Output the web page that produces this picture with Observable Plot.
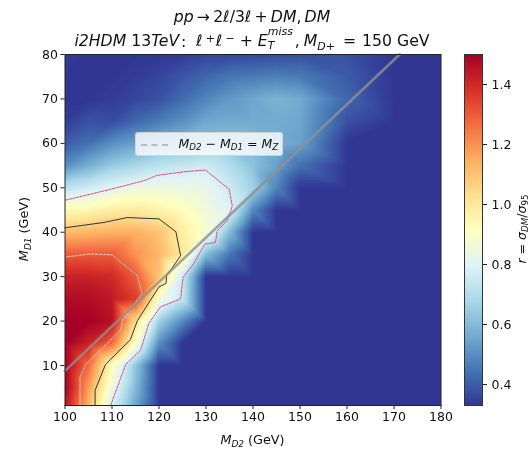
<!DOCTYPE html>
<html><head><meta charset="utf-8">
<script src="https://cdn.jsdelivr.net/npm/d3@7"></script>
<script src="https://cdn.jsdelivr.net/npm/@observablehq/plot@0.6"></script>
<style>
html,body{margin:0;padding:0;background:#fff;width:529px;height:449px;overflow:hidden}
#wrap{position:relative;width:529px;height:449px;font-family:"DejaVu Sans",sans-serif;color:#111;filter:blur(.3px)}
#wrap svg{position:absolute;top:0;max-width:none;background:transparent}
.t{position:absolute;white-space:nowrap;line-height:1}
.t sub{font-size:.7em;vertical-align:baseline;position:relative;top:.28em;line-height:0}
.t sup{font-size:.7em;vertical-align:baseline;position:relative;top:-.42em;line-height:0}
.stack{display:inline-block;position:relative;width:1.72em;height:1em}
.stack i{position:absolute;left:0;font-size:.7em;line-height:1}
</style></head><body><div id="wrap"></div>
<script>
const massD2 = [100,105,110,115,120,125,130,135,140,145,150,160,170,180];
const massD1 = [1,5,10,15,20,25,30,35,40,45,50,55,60,65,70,75,80];
const r1  = [1.45,1.13,.78,.55,.33,.33,.33,.33,.33,.33,.33,.33,.33,.33];
const r5  = [1.5,1.18,.85,.6,.33,.33,.33,.33,.33,.33,.33,.33,.33,.33];
const r10 = [1.5,1.27,.92,.63,.33,.33,.33,.33,.33,.33,.33,.33,.33,.33];
const r15 = [1.5,1.42,1.27,.9,.5,.33,.33,.33,.33,.33,.33,.33,.33,.33];
const r20 = [1.5,1.5,1.46,1.04,.66,.49,.33,.33,.33,.33,.33,.33,.33,.33];
const r25 = [1.47,1.47,1.44,1.36,.88,.74,.33,.33,.33,.33,.33,.33,.33,.33];
const r30 = [1.42,1.42,1.4,1.3,1.1,.76,.33,.33,.33,.33,.33,.33,.33,.33];
const r35 = [1.3,1.3,1.3,1.2,1.13,1,.6,.45,.33,.33,.33,.33,.33,.33];
const r40 = [1.12,1.13,1.14,1.14,1.1,.98,.88,.6,.33,.33,.33,.33,.33,.33];
const r45 = [.93,.95,.98,.99,.96,.92,.86,.8,.49,.33,.33,.33,.33,.33];
const r50 = [.72,.76,.81,.84,.85,.84,.83,.76,.66,.48,.33,.33,.33,.33];
const r55 = [.5,.57,.64,.68,.72,.74,.76,.7,.62,.54,.44,.33,.33,.33];
const r60 = [.4,.44,.5,.54,.58,.6,.62,.62,.6,.57,.54,.33,.33,.33];
const r65 = [.34,.38,.37,.42,.46,.5,.55,.56,.56,.56,.55,.38,.33,.33];
const r70 = [.33,.33,.34,.36,.38,.43,.48,.52,.55,.58,.56,.42,.33,.33];
const r75 = [.33,.33,.33,.34,.36,.39,.42,.45,.46,.47,.46,.4,.33,.33];
const r80 = [.34,.33,.33,.33,.33,.34,.36,.36,.36,.37,.38,.38,.33,.33];
const ratioRows = [r1,r5,r10,r15,r20,r25,r30,r35,r40,r45,r50,r55,r60,r65,r70,r75,r80];

const pinkX = [109.7,112.9,116.1,117.8,120.3,124.6,125.1,127.3,129.7,132,132.4,134.5,135.6,134.9,129.9,125.3,119.6,116.8,108.3,100];
const pinkY = [1,10.2,13.5,19.4,23.2,25,29.8,32.8,37.3,37.7,40.3,42.6,45.9,49.7,54,53.6,52.8,51.6,49.3,47.2];
const blackX = [106.4,106.4,108.6,113.9,115.4,120,121.5,121.6,124.6,123.6,120,113.2,108.3,100];
const blackY = [1,4.4,10.2,15.8,20.1,27.7,28.5,30.2,34.7,40.1,43,43.3,42.2,41];
const whiteX = [103.2,103.2,104.4,111.8,112.2,116.4,115.4,110,105.4,100];
const whiteY = [1,7.4,10.2,17.9,20.1,26.2,30.2,34.9,35.1,34.4];
const mzLineX = [100,171.2];
const mzLineY = [8.8,80];

const colorStops = [.33,.447,.564,.681,.798,.915,1.032,1.149,1.266,1.383,1.5];
const colorRange = ["#313695","#4575b4","#74add1","#abd9e9","#e0f3f8","#ffffbf","#fee090","#fdae61","#f46d43","#d73027","#a50026"];
const colorScale = {type:"linear",domain:colorStops,range:colorRange,clamp:true};

const xTicks = [100,110,120,130,140,150,160,170,180];
const yTicks = [10,20,30,40,50,60,70,80];
const barTicks = [.4,.6,.8,1,1.2,1.4];

const grid = ratioRows.flatMap((row,j)=>row.map((v,i)=>({x:massD2[i],y:massD1[j],v})));
const pts = (xs,ys)=>xs.map((x,i)=>[x,ys[i]]);

const main = Plot.plot({
  width:529,height:449,marginLeft:64.5,marginRight:88.5,marginTop:54,marginBottom:44,
  style:{fontFamily:"DejaVu Sans",fontSize:"12.5px",color:"#111",background:"transparent"},
  x:{domain:[100,180]},y:{domain:[1,80]},color:colorScale,
  marks:[
    Plot.raster(grid,{x:"x",y:"y",fill:"v",interpolate:"barycentric"}),
    Plot.line(pts(whiteX,whiteY),{stroke:"#ffe9dc",strokeWidth:.8,strokeDasharray:"2.5,1.5"}),
    Plot.line(pts(blackX,blackY),{stroke:"#333",strokeWidth:1}),
    Plot.line(pts(pinkX,pinkY),{stroke:"#dc3c6a",strokeWidth:.9,strokeDasharray:"2.5,1.2"}),
    Plot.line(pts(mzLineX,mzLineY),{stroke:"#909090",strokeWidth:2.6,strokeOpacity:.8}),
    Plot.frame({stroke:"#222",strokeWidth:1}),
    Plot.axisX({ticks:xTicks,tickSize:4,tickPadding:3,tickFormat:d=>d,label:null,stroke:"#222"}),
    Plot.axisY({ticks:yTicks,tickSize:4,tickPadding:3,tickFormat:d=>d,label:null,stroke:"#222"})
  ]
});
main.style.left="0px";

const bar = Plot.plot({
  width:89,height:449,marginLeft:24,marginRight:47,marginTop:54,marginBottom:44,
  style:{fontFamily:"DejaVu Sans",fontSize:"12.5px",color:"#111",background:"transparent"},
  x:{domain:[0,1],axis:null},y:{domain:[.33,1.5]},color:colorScale,
  marks:[
    Plot.raster({x1:0,x2:1,y1:.33,y2:1.5,fill:(x,y)=>y}),
    Plot.frame({stroke:"#333",strokeWidth:1}),
    Plot.axisY({anchor:"right",ticks:barTicks,tickSize:4,tickPadding:5,tickFormat:d=>d.toFixed(1),label:null,stroke:"#222"})
  ]
});
bar.style.left="440px";

const wrap = document.getElementById("wrap");
wrap.append(main,bar);

function text(html,css){
  const d=document.createElement("div");d.className="t";d.innerHTML=html;d.style.cssText=css;wrap.append(d);return d;
}
const center="transform:translate(-50%,-50%);";
const gap=px=>`<span style="display:inline-block;width:${px}px"></span>`;
text('<i>pp</i>&#8201;→&#8201;2<i>ℓ</i>/3<i>ℓ</i>&#8201;+&#8201;<i>DM</i>,&#8201;<i>DM</i>',`left:252px;top:17px;font-size:15.7px;${center}`);
text(`<i>i2HDM</i> 13<i>TeV</i><span style="margin-left:.12em">:</span> &nbsp;<i>ℓ</i>${gap(3)}<sup>+</sup>${gap(1)}<i>ℓ</i>${gap(3)}<sup>−</sup> + <i>E</i><span class="stack"><i style="top:-.42em">miss</i><i style="top:.85em">T</i></span>,${gap(4)}<i>M</i><sub><i>D+</i></sub>${gap(3)} = ${gap(1)}150 GeV`,`left:252px;top:40px;font-size:15.7px;${center}`);
text('<i>M</i><sub><i>D2</i></sub> (GeV)',`left:252.5px;top:440px;font-size:12.8px;${center}`);
text('<i>M</i><sub><i>D1</i></sub> (GeV)',`left:24px;top:229px;font-size:12.8px;transform:translate(-50%,-50%) rotate(-90deg);`);
text('<i>r</i> = <i>σ</i><sub><i>DM</i></sub>/<i>σ</i><sub>95</sub>',`left:522px;top:229px;font-size:12.5px;transform:translate(-50%,-50%) rotate(-90deg);`);
text('<span style="display:inline-block;width:27px;border-top:2px dashed #bbb;vertical-align:middle;margin-right:11px"></span><i>M</i><sub><i>D2</i></sub> − <i>M</i><sub><i>D1</i></sub> = <i>M</i><sub><i>Z</i></sub>',
 'left:135px;top:132px;width:148px;height:24px;box-sizing:border-box;padding:5px 0 0 4.5px;font-size:12.5px;background:rgba(255,255,255,.8);border:1px solid rgba(204,204,204,.8);border-radius:3px;');
</script></body></html>
